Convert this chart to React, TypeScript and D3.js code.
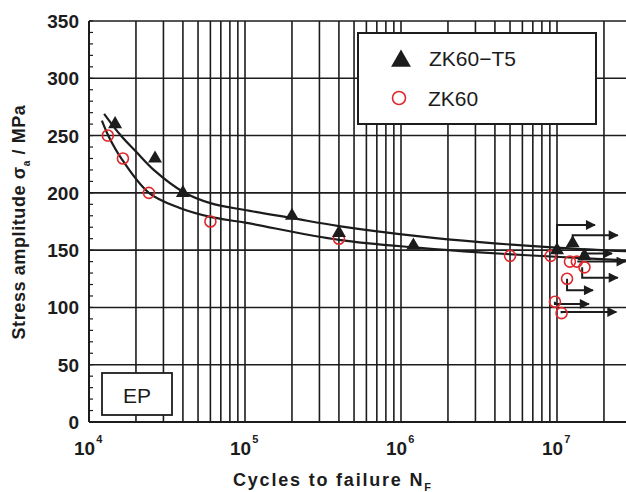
import React from "react";
import * as d3 from "d3";

// ZK60-T5 (filled triangles)
const t5Cycles = [14700, 26500, 40000, 200000, 400000, 1.2e6, 1e7, 1.26e7, 1.5e7];
const t5Stress = [260, 230, 200, 180, 165, 154, 150, 156, 145];

// ZK60 (open circles)
const zkCycles = [13200, 16500, 24200, 60000, 400000, 5e6, 9.1e6, 1.21e7, 1.34e7, 1.5e7, 1.16e7, 9.7e6, 1.07e7];
const zkStress = [250, 230, 200, 175, 160, 145, 145, 140, 140, 135, 125, 105, 95];

// fitted curves
const t5FitCycles = [12500, 16000, 20000, 26000, 40000, 60000, 1e5, 2e5, 4e5, 1.32e6, 3.2e6, 1.05e7, 2.8e7];
const t5FitStress = [269, 250, 236, 220, 201, 191, 185, 178, 171, 162, 157, 152, 149];
const zkFitCycles = [12100, 13400, 16300, 24200, 37800, 60000, 1e5, 4e5, 1.32e6, 3.2e6, 1.05e7, 2.8e7];
const zkFitStress = [263, 249, 229, 200, 187, 179, 174, 159, 152, 148, 144, 141];

// run-outs: riser from the point, then arrow to the right
const runStartN = [1e7, 1.26e7, 1.45e7, 1.35e7, 1.45e7, 1.16e7, 9.7e6, 1.07e7];
const runPointS = [150, 156, 145, 140, 135, 125, 105, 95];
const runArrowS = [172, 163, 147, 140, 126, 115, 103, 96];
const runEndN = [1.75e7, 2.45e7, 2.25e7, 2.75e7, 2.45e7, 1.7e7, 1.6e7, 2.4e7];

const yTicks = [0, 50, 100, 150, 200, 250, 300, 350];
const xDecades = [4, 5, 6, 7];

const W = 626, H = 492;
const left = 89, top = 21, bottom = 422, right = 626;
const FONT = "'Liberation Sans', Arial, Helvetica, sans-serif";
const INK = "#1c1c1c";
const RED = "#e0282c";

export default function App() {
  const x = d3.scaleLog().domain([1e4, 1e7]).range([left, 557]);
  const y = d3.scaleLinear().domain([0, 350]).range([bottom, top]);
  const xMax = x.invert(right);
  const gridN = d3.scaleLog().domain([1e4, xMax]).ticks();
  const minorY = d3.range(0, 351, 10);

  const line = d3
    .line<[number, number]>()
    .x((d) => x(d[0]))
    .y((d) => y(d[1]))
    .curve(d3.curveCatmullRom.alpha(0.5));

  const t5Fit = t5FitCycles.map((n, i) => [n, t5FitStress[i]] as [number, number]);
  const zkFit = zkFitCycles.map((n, i) => [n, zkFitStress[i]] as [number, number]);

  const tri = d3.symbol().type(d3.symbolTriangle).size(85)()!;
  const triBig = d3.symbol().type(d3.symbolTriangle).size(170)()!;

  return (
    <svg
      width={W}
      height={H}
      style={{ position: "absolute", left: 0, top: 0, background: "#fff" }}
      fontFamily={FONT}
    >
      <defs>
        <clipPath id="plot">
          <rect x={left} y={top - 2} width={right - left} height={bottom - top + 4} />
        </clipPath>
        <marker id="head" viewBox="0 0 10 10" refX="9" refY="5" markerWidth="5.5" markerHeight="5" orient="auto" markerUnits="strokeWidth">
          <path d="M0,0 L10,5 L0,10 Z" fill={INK} />
        </marker>
      </defs>

      {/* grid */}
      <g stroke={INK} strokeWidth={1.6}>
        {gridN.map((n, i) => (
          <line key={"v" + i} x1={x(n)} x2={x(n)} y1={top} y2={bottom} />
        ))}
        {yTicks.map((t) => (
          <line key={"h" + t} x1={left} x2={right} y1={y(t)} y2={y(t)} />
        ))}
        {minorY.map((t) => (
          <line key={"m" + t} x1={left} x2={left + 4} y1={y(t)} y2={y(t)} strokeWidth={1.2} />
        ))}
      </g>

      {/* y tick labels */}
      <g fontSize={19} fontWeight="bold" fill={INK} textAnchor="end">
        {yTicks.map((t) => (
          <text key={t} x={79} y={y(t) + 7}>
            {t}
          </text>
        ))}
      </g>

      {/* x tick labels */}
      <g fontSize={19} fontWeight="bold" fill={INK}>
        {xDecades.map((d) => (
          <text key={d} x={x(Math.pow(10, d)) - 15} y={455}>
            10
            <tspan fontSize={11} dy={-12} dx={1}>
              {d}
            </tspan>
          </text>
        ))}
      </g>

      {/* axis titles */}
      <text x={233} y={486} fontSize={18} fontWeight="bold" fill={INK} letterSpacing={1.8}>
        Cycles to failure N
        <tspan fontSize={11} dy={5}>F</tspan>
      </text>
      <text
        transform={`translate(25,${222}) rotate(-90)`}
        textAnchor="middle"
        fontSize={18}
        fontWeight="bold"
        fill={INK}
        letterSpacing={0.6}
      >
        Stress amplitude σ<tspan fontSize={10} dy={5}>a</tspan>
        <tspan dy={-5}> / MPa</tspan>
      </text>

      <g clipPath="url(#plot)">
        {/* fitted curves */}
        <path d={line(t5Fit)!} fill="none" stroke={INK} strokeWidth={2.2} />
        <path d={line(zkFit)!} fill="none" stroke={INK} strokeWidth={2.2} />

        {/* run-out arrows */}
        <g stroke={INK} strokeWidth={2} fill="none">
          {runStartN.map((n, i) => (
            <path
              key={i}
              d={`M${x(n)},${y(runPointS[i])} L${x(n)},${y(runArrowS[i])} L${x(runEndN[i])},${y(runArrowS[i])}`}
              markerEnd="url(#head)"
            />
          ))}
        </g>

        {/* ZK60 points */}
        {zkCycles.map((n, i) => (
          <circle key={"c" + i} cx={x(n)} cy={y(zkStress[i])} r={5.5} fill="none" stroke={RED} strokeWidth={1.6} />
        ))}

        {/* ZK60-T5 points */}
        {t5Cycles.map((n, i) => (
          <path key={"t" + i} d={tri} transform={`translate(${x(n)},${y(t5Stress[i])})`} fill={INK} />
        ))}
      </g>

      {/* axis lines */}
      <line x1={left} x2={left} y1={top} y2={bottom} stroke={INK} strokeWidth={2} />
      <line x1={left} x2={right} y1={bottom} y2={bottom} stroke={INK} strokeWidth={2} />

      {/* legend */}
      <rect x={358} y={33} width={238} height={91} fill="#fff" stroke={INK} strokeWidth={2} />
      <path d={triBig} transform="translate(401,61)" fill={INK} />
      <text x={429} y={66} fontSize={21} fill={INK}>
        ZK60−T5
      </text>
      <circle cx={399} cy={98} r={6.5} fill="none" stroke={RED} strokeWidth={1.6} />
      <text x={428} y={106} fontSize={21} fill={INK}>
        ZK60
      </text>

      {/* EP label */}
      <rect x={102} y={373} width={70} height={42} fill="#fff" stroke={INK} strokeWidth={1.8} />
      <text x={137} y={403} fontSize={21} textAnchor="middle" fill={INK}>
        EP
      </text>
    </svg>
  );
}
